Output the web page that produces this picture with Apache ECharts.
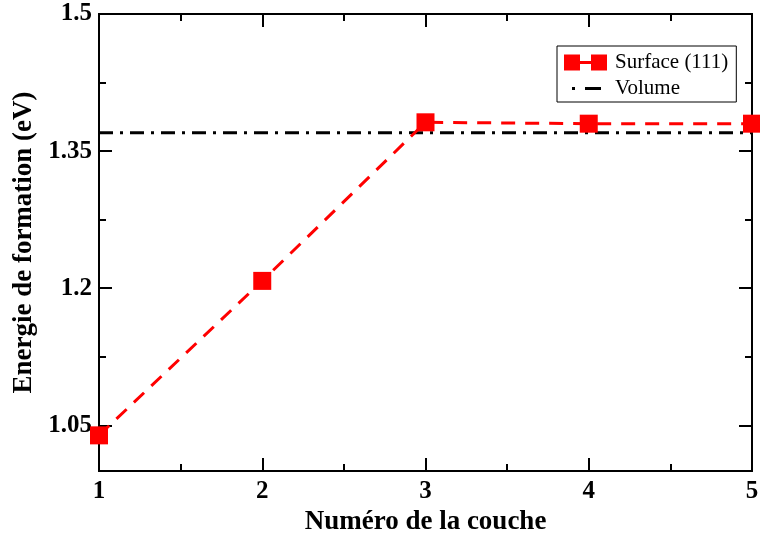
<!DOCTYPE html>
<html>
<head>
<meta charset="utf-8">
<script src="https://cdn.jsdelivr.net/npm/echarts@6/dist/echarts.min.js"></script>
<style>
html,body{margin:0;padding:0;background:#fff;}
#chart{width:760px;height:536px;}
</style>
</head>
<body>
<div id="chart"></div>
<script>
// ---- data ----
const layers = [1, 2, 3, 4, 5];
const surfaceEnergy = [1.039, 1.208, 1.3815, 1.380, 1.380];
const volumeX = [1, 5];
const volumeEnergy = [1.37, 1.37];
const yMajorTicks = [1.05, 1.2, 1.35, 1.5];
const yMinorTicks = [1.125, 1.275, 1.425];
const seriesNames = ['Surface (111)', 'Volume'];
const xTitle = 'Numéro de la couche';
const yTitle = 'Energie de formation (eV)';

const FONT = 'Liberation Serif';
const chart = echarts.init(document.getElementById('chart'), null, {renderer: 'canvas'});

const axisLine = {show: true, onZero: false, lineStyle: {color: '#000', width: 2}};
const majorTick = {show: true, inside: true, length: 13, lineStyle: {color: '#000', width: 2}};
const minorTickX = {show: true, splitNumber: 2, length: 7, lineStyle: {color: '#000', width: 2}};

function yAxisDef(pos, labels, ticks, len) {
  return {
    type: 'value', position: pos, min: 1.0, max: 1.5,
    axisLine: axisLine,
    axisTick: {show: true, inside: true, length: len, customValues: ticks, lineStyle: {color: '#000', width: 2}},
    axisLabel: labels ? {show: true, customValues: ticks, margin: 7, color: '#000',
      fontFamily: FONT, fontWeight: 'bold', fontSize: 25, padding: [5, 0, 0, 0]} : {show: false},
    splitLine: {show: false}
  };
}

const yAxes = [
  Object.assign(yAxisDef('left', true, yMajorTicks, 13), {
    name: yTitle, nameLocation: 'middle', nameGap: 51,
    nameTextStyle: {color: '#000', fontFamily: FONT, fontWeight: 'bold', fontSize: 27}
  }),
  yAxisDef('left', false, yMinorTicks, 7),
  yAxisDef('right', false, yMajorTicks, 13),
  yAxisDef('right', false, yMinorTicks, 7)
];

const option = {
  backgroundColor: '#fff',
  animation: false,
  grid: {left: 99, right: 8, top: 14, bottom: 65, containLabel: false, outerBoundsMode: 'none'},
  legend: {
    orient: 'vertical', left: 557, top: 46,
    padding: [6, 8, 3, 7],
    itemWidth: 43, itemHeight: 16, itemGap: 5,
    borderColor: '#000', borderWidth: 1, borderRadius: 0,
    backgroundColor: '#fff',
    textStyle: {color: '#000', fontFamily: FONT, fontSize: 21, padding: [0, 0, 0, 3]},
    data: [
      {name: seriesNames[0], icon: 'path://M0,0h16v16h-16zM27,0h16v16h-16zM16,6.5h11v3h-11z'},
      {name: seriesNames[1], icon: 'path://M0,0M43,16M8,6.5h3v3h-3zM21,6.5h16v3h-16z'}
    ]
  },
  xAxis: [
    {
      type: 'value', position: 'bottom', min: 1, max: 5, interval: 1,
      axisLine: axisLine, axisTick: majorTick, minorTick: minorTickX,
      axisLabel: {color: '#000', fontFamily: FONT, fontWeight: 'bold', fontSize: 25, margin: 8},
      splitLine: {show: false}, minorSplitLine: {show: false},
      name: xTitle, nameLocation: 'middle', nameGap: 31,
      nameTextStyle: {color: '#000', fontFamily: FONT, fontWeight: 'bold', fontSize: 27}
    },
    {
      type: 'value', position: 'top', min: 1, max: 5, interval: 1,
      axisLine: axisLine, axisTick: majorTick, minorTick: minorTickX,
      axisLabel: {show: false}, splitLine: {show: false}
    }
  ],
  yAxis: yAxes,
  series: [
    {
      name: seriesNames[1], type: 'line',
      data: volumeX.map((x, i) => [x, volumeEnergy[i]]),
      symbol: 'none', color: '#000',
      lineStyle: {color: '#000', width: 3, type: [14, 7, 3, 7]},
      z: 2
    },
    {
      name: seriesNames[0], type: 'line',
      data: layers.map((x, i) => [x, surfaceEnergy[i]]),
      symbol: 'rect', symbolSize: 18, color: '#ff0000',
      itemStyle: {color: '#ff0000'},
      lineStyle: {color: '#ff0000', width: 3, type: [14, 10]},
      z: 3
    }
  ]
};
chart.setOption(option);
</script>
</body>
</html>
